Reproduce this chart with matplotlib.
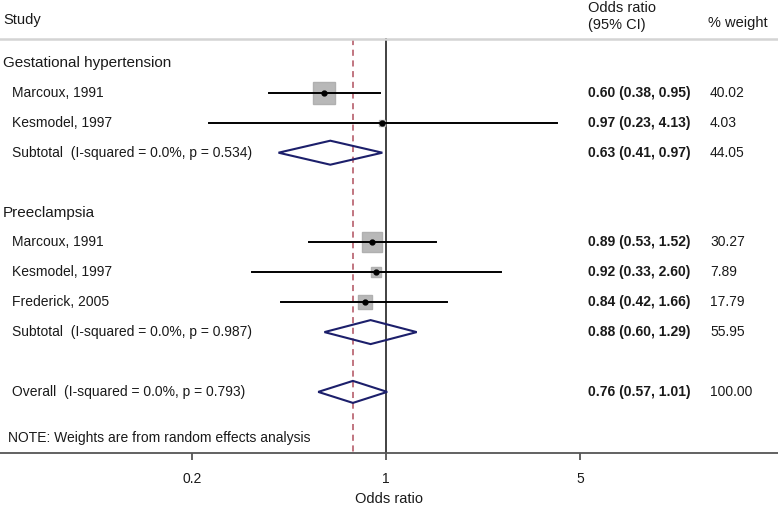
import numpy as np
import matplotlib.pyplot as plt
import matplotlib.transforms as mtransforms
from matplotlib.patches import Polygon

plt.rcParams['font.family'] = ['Liberation Sans', 'DejaVu Sans']

# rows of the forest plot, top to bottom
labels = ['Gestational hypertension', 'Marcoux, 1991', 'Kesmodel, 1997',
          'Subtotal  (I-squared = 0.0%, p = 0.534)', '',
          'Preeclampsia', 'Marcoux, 1991', 'Kesmodel, 1997', 'Frederick, 2005',
          'Subtotal  (I-squared = 0.0%, p = 0.987)', '',
          'Overall  (I-squared = 0.0%, p = 0.793)']
kind = ['group', 'study', 'study', 'sub', 'blank',
        'group', 'study', 'study', 'study', 'sub', 'blank', 'sub']
odds = [np.nan, 0.60, 0.97, 0.63, np.nan, np.nan, 0.89, 0.92, 0.84, 0.88, np.nan, 0.76]
low = [np.nan, 0.38, 0.23, 0.41, np.nan, np.nan, 0.53, 0.33, 0.42, 0.60, np.nan, 0.57]
high = [np.nan, 0.95, 4.13, 0.97, np.nan, np.nan, 1.52, 2.60, 1.66, 1.29, np.nan, 1.01]
weight = [np.nan, 40.02, 4.03, 44.05, np.nan, np.nan, 30.27, 7.89, 17.79, 55.95, np.nan, 100.00]
ticks = [0.2, 1, 5]
overall = 0.76

W, H = 778, 507
axis_y = 453
fig = plt.figure(figsize=(W / 100, H / 100), dpi=100)
ax = fig.add_axes([0, (H - axis_y) / H, 1, axis_y / H])
ax.set_xscale('log')
ppd = 277.6  # pixels per decade
ax.set_xlim(10 ** (-386 / ppd), 10 ** ((W - 386) / ppd))
ax.set_ylim(axis_y, 0)

tr = mtransforms.blended_transform_factory(ax.transAxes, ax.transData)
txt = '#1a1a1a'

def px(x):
    return x / W

# header
ax.text(px(3), 20, 'Study', transform=tr, fontsize=10.5, va='center', color=txt)
ax.text(px(588), 8, 'Odds ratio', transform=tr, fontsize=10.5, va='center', color=txt)
ax.text(px(588), 25, '(95% CI)', transform=tr, fontsize=10.5, va='center', color=txt)
ax.text(px(708), 23, '% weight', transform=tr, fontsize=10.5, va='center', color=txt)
ax.plot([0, 1], [39, 39], transform=tr, color='#d4d4d4', lw=1.8, clip_on=False)

# reference lines
ax.plot([1, 1], [39, axis_y], color='#333333', lw=1.3, zorder=1)
ax.plot([overall, overall], [39, axis_y], color='#b0505e', lw=1.1,
        ls=(0, (4, 3)), zorder=1)

for i, (lab, k) in enumerate(zip(labels, kind)):
    y = 63 + 29.9 * i
    if k == 'blank':
        continue
    if k == 'group':
        ax.text(px(3), y, lab, transform=tr, fontsize=11, va='center', color=txt)
        continue
    ax.text(px(12), y, lab, transform=tr, fontsize=10, va='center', color=txt)
    ax.text(px(588), y, '%.2f (%.2f, %.2f)' % (odds[i], low[i], high[i]),
            transform=tr, fontsize=10, va='center', color=txt, fontweight='bold')
    ax.text(px(710), y, '%.2f' % weight[i], transform=tr, fontsize=10,
            va='center', color=txt)
    if k == 'study':
        side = 3.47 * np.sqrt(weight[i]) * 0.72
        ax.plot(odds[i], y, marker='s', ms=side, color='#b8b8b8', mec='#b0b0b0',
                zorder=2)
        ax.plot([low[i], high[i]], [y, y], color='black', lw=1.4, zorder=3)
        ax.plot(odds[i], y, 'o', ms=3.5, color='black', zorder=4)
    else:
        hh = 11 if k == 'sub' and i == len(labels) - 1 else 12
        d = Polygon([[low[i], y], [odds[i], y - hh], [high[i], y], [odds[i], y + hh]],
                    closed=True, fill=False, ec='#1c1f6b', lw=1.5, zorder=3)
        ax.add_patch(d)

ax.text(px(8), 438, 'NOTE: Weights are from random effects analysis', transform=tr,
        fontsize=10, va='center', color=txt)

for s in ['top', 'left', 'right']:
    ax.spines[s].set_visible(False)
ax.spines['bottom'].set_color('#555555')
ax.spines['bottom'].set_linewidth(1.3)
ax.set_yticks([])
ax.set_xticks(ticks)
ax.set_xticklabels(['0.2', '1', '5'])
ax.minorticks_off()
ax.tick_params(axis='x', direction='out', length=5, width=1.3, color='#555555',
               labelsize=10, pad=9, labelcolor=txt)
ax.set_xlabel('Odds ratio', fontsize=10.5, labelpad=4, color=txt)

fig.savefig('out.png', dpi=100)
